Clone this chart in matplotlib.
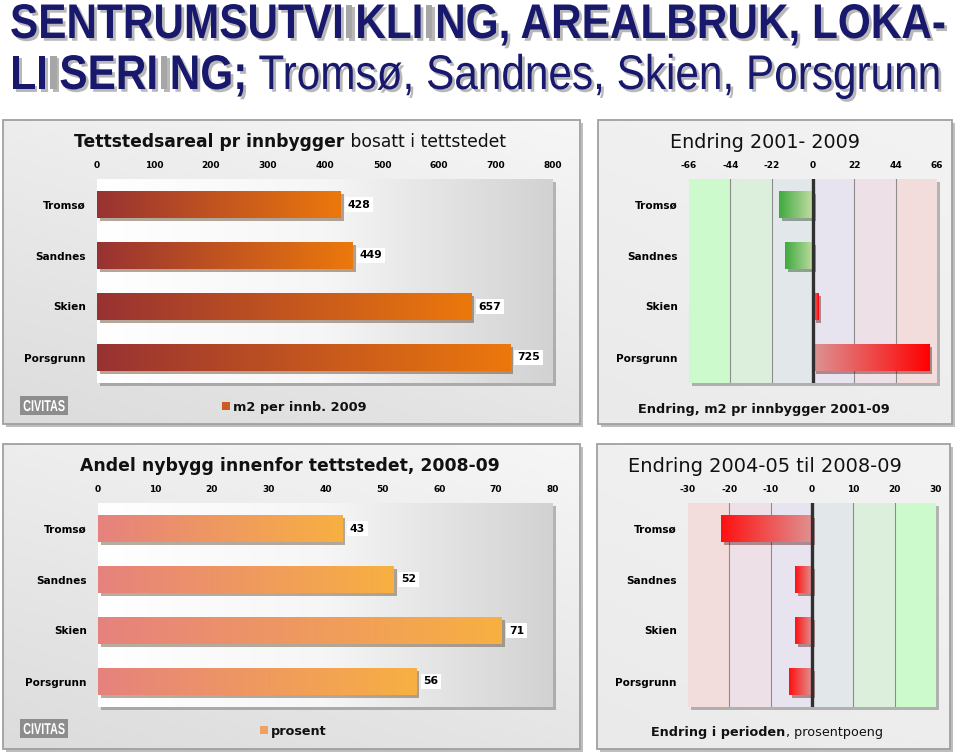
import numpy as np
import matplotlib
matplotlib.use('Agg')
import matplotlib.pyplot as plt
from matplotlib import patheffects as pe
from matplotlib import font_manager
from matplotlib.colors import LinearSegmentedColormap, to_rgb
from matplotlib.patches import Rectangle
from matplotlib.transforms import IdentityTransform, Affine2D
from matplotlib.font_manager import FontProperties

W, H = 960, 753

# data
byer = ['Tromsø', 'Sandnes', 'Skien', 'Porsgrunn']
areal_2009 = [428, 449, 657, 725]          # m2 per innbygger 2009
endring_areal = [-18, -15, 3, 62]          # endring 2001-2009
andel_nybygg = [43, 52, 71, 56]            # prosent 2008-09
endring_andel = [-22, -4, -4, -5.5]        # prosentpoeng

ticks_areal = [0, 100, 200, 300, 400, 500, 600, 700, 800]
ticks_endr_areal = [-66, -44, -22, 0, 22, 44, 66]
ticks_andel = [0, 10, 20, 30, 40, 50, 60, 70, 80]
ticks_endr_andel = [-30, -20, -10, 0, 10, 20, 30]

# band colours, from left to right
baand_gronn_rod = ['#cdfacd', '#dcefdc', '#e2e7e9', '#e8e4ef', '#eee0e7', '#f3dcdc']
baand_rod_gronn = baand_gronn_rod[::-1]

navy = '#18186c'
graa_i = '#a6a6a6'

names = {f.name for f in font_manager.fontManager.ttflist}
narrow = 'Liberation Sans Narrow' if 'Liberation Sans Narrow' in names else 'Liberation Sans'
stretch_y = 1.0 if narrow == 'Liberation Sans Narrow' else 1.15
sans = 'DejaVu Sans'

fig = plt.figure(figsize=(W / 100, H / 100), dpi=100)
fig.patch.set_facecolor('white')
renderer = fig.canvas.get_renderer()


class Stretch(pe.AbstractPathEffect):
    # makes glyphs taller around the baseline y0 (display px), stand-in for a narrow face
    def __init__(self, y0, sy, inner):
        super().__init__()
        self.y0, self.sy, self.inner = y0, sy, inner

    def draw_path(self, renderer, gc, tpath, affine, rgbFace=None):
        aff = affine + Affine2D().translate(0, -self.y0).scale(1, self.sy).translate(0, self.y0)
        self.inner.draw_path(renderer, gc, tpath, aff, rgbFace)


def rect(l, t, r, b):
    return [l / W, 1 - b / H, (r - l) / W, (b - t) / H]


def tw(s, size, weight, family):
    # width of a string in pixels, keeps leading / trailing spaces
    prop = FontProperties(family=family, size=size, weight=weight)
    w1 = renderer.get_text_width_height_descent('|' + s + '|', prop, ismath=False)[0]
    w0 = renderer.get_text_width_height_descent('||', prop, ismath=False)[0]
    return w1 - w0


def runs(x, y, parts, size, family, ha='left', width=None, shadow=False, sy=1.0):
    # parts: (text, colour, weight)
    if width is not None:
        tot = sum(tw(s, size, wt, family) for s, c, wt in parts)
        size = size * width / tot
    ws = [tw(s, size, wt, family) for s, c, wt in parts]
    x0 = x - sum(ws) / 2 if ha == 'center' else x
    for (s, c, wt), w in zip(parts, ws):
        eff = None
        if shadow or sy != 1.0:
            inner = [pe.Normal()]
            if shadow:
                inner = [pe.SimplePatchShadow(offset=(2, -2), shadow_rgbFace='#8a8a8a', alpha=0.6),
                         pe.Normal()]
            eff = [Stretch(H - y, sy, e) for e in inner]
        fig.text(x0, H - y, s, transform=IdentityTransform(), fontsize=size,
                 color=c, weight=wt, family=family, va='baseline', ha='left',
                 path_effects=eff)
        x0 += w
    return size


def panel(l, t, r, b, light='#f6f6f6', dark='#dcdcdc'):
    ax = fig.add_axes(rect(l, t, r, b))
    ax.set_xlim(0, 1)
    ax.set_ylim(0, 1)
    ax.axis('off')
    ax.add_patch(Rectangle((0, 0), 1, 1, fc='#e6e6e6', ec='none', clip_on=False, zorder=0,
                           path_effects=[pe.SimplePatchShadow(offset=(2, -2), alpha=0.35), pe.Normal()]))
    yy, xx = np.mgrid[0:1:100j, 0:1:100j]
    t_ = np.clip(0.65 * yy + 0.35 * (1 - xx), 0, 1)[..., None]
    img = np.array(to_rgb(light)) * (1 - t_) + np.array(to_rgb(dark)) * t_
    ax.imshow(img, extent=[0, 1, 0, 1], aspect='auto', zorder=1, origin='upper')
    ax.add_patch(Rectangle((0, 0), 1, 1, fill=False, ec='#a0a0a0', lw=1.3, clip_on=False, zorder=2))
    return ax


def plot_axes(l, t, r, b, ticks, plain_bg=True):
    ax = fig.add_axes(rect(l, t, r, b))
    ax.set_xlim(ticks[0], ticks[-1])
    ax.set_ylim(len(byer) - 0.5, -0.5)
    ax.patch.set_visible(False)
    for s in ax.spines.values():
        s.set_visible(False)
    ax.xaxis.tick_top()
    ax.set_xticks(ticks)
    ax.set_xticklabels([str(v) for v in ticks], fontsize=6.5, weight='bold', family=sans)
    ax.set_yticks(range(len(byer)))
    ax.set_yticklabels(byer, fontsize=7.6, weight='bold', family=sans)
    ax.tick_params(length=0, axis='x', pad=6.5)
    ax.tick_params(length=0, axis='y', pad=8)
    ax.add_patch(Rectangle((0, 0), 1, 1, transform=ax.transAxes, fc='#d8d8d8', ec='none',
                           clip_on=False, zorder=0,
                           path_effects=[pe.SimplePatchShadow(offset=(2, -2), alpha=0.35), pe.Normal()]))
    if plain_bg:
        cm = LinearSegmentedColormap.from_list('bg', ['#ffffff', '#f6f6f6', '#d2d2d2'])
        ax.imshow(np.linspace(0, 1, 256).reshape(1, -1), cmap=cm, extent=[0, 1, 0, 1],
                  transform=ax.transAxes, aspect='auto', zorder=0.5)
    return ax


def grad_bars(ax, vals, c_base, c_tip, height=0.54):
    cm = LinearSegmentedColormap.from_list('g', [c_base, c_tip])
    bars = ax.barh(range(len(vals)), vals, height=height, color=c_tip, zorder=3,
                   path_effects=[pe.SimplePatchShadow(offset=(2, -2), alpha=0.4), pe.Normal()])
    for bar in bars:
        x0, w = bar.get_x(), bar.get_width()
        y0, h = bar.get_y(), bar.get_height()
        im = ax.imshow(np.linspace(0, 1, 256).reshape(1, -1), cmap=cm,
                       extent=[x0, x0 + w, y0 + h, y0], aspect='auto', zorder=4)
        im.set_clip_path(bar)
    return bars


def value_labels(ax, vals):
    for i, v in enumerate(vals):
        ax.annotate(str(v), (v, i), xytext=(5, 0), textcoords='offset points',
                    va='center', ha='left', fontsize=7.8, weight='bold', family=sans,
                    bbox=dict(fc='white', ec='none', pad=2), zorder=6)


def bands(ax, ticks, colours):
    for a, b, c in zip(ticks[:-1], ticks[1:], colours):
        ax.axvspan(a, b, color=c, zorder=1, lw=0)
    for v in ticks[1:-1]:
        if v != 0:
            ax.axvline(v, color='#8c8c8c', lw=0.8, zorder=2)
    ax.axvline(0, color='#303030', lw=2.4, zorder=7)


def civitas(l, t, r, b):
    fig.add_artist(Rectangle((l / W, 1 - b / H), (r - l) / W, (b - t) / H,
                             transform=fig.transFigure, fc='#8d8d8d', ec='none'))
    runs((l + r) / 2, b - 4, [('CIVITAS', 'white', 'bold')], 9, narrow, ha='center',
         width=(r - l) - 6, sy=1.45)


# ---- main title ----
line1 = [('SENTRUMSUTVI', navy, 'bold'), ('I', graa_i, 'bold'), ('KLI', navy, 'bold'),
         ('I', graa_i, 'bold'), ('NG, AREALBRUK, LOKA-', navy, 'bold')]
size1 = runs(10, 38, line1, 27, narrow, width=935, shadow=True, sy=stretch_y)
line2 = [('LI', navy, 'bold'), ('I', graa_i, 'bold'), ('SERI', navy, 'bold'), ('I', graa_i, 'bold'),
         ('NG;', navy, 'bold'), (' Tromsø, Sandnes, Skien, Porsgrunn', navy, 'normal')]
runs(10, 89, line2, size1, narrow, shadow=True, sy=stretch_y)

# ---- panel 1: tettstedsareal ----
p1 = panel(3, 120, 580, 424)
ax1 = plot_axes(97, 179, 553, 383, ticks_areal)
grad_bars(ax1, areal_2009, '#983232', '#ec780c')
value_labels(ax1, areal_2009)
ax1.set_xlim(ticks_areal[0], ticks_areal[-1])
ax1.set_ylim(len(byer) - 0.5, -0.5)
runs(290, 147, [('Tettstedsareal pr innbygger', '#111111', 'bold'),
                (' bosatt i tettstedet', '#111111', 'normal')], 11, sans, ha='center', width=430)
civitas(20, 396, 68, 415)
fig.add_artist(Rectangle((222 / W, 1 - 410 / H), 8 / W, 8 / H, transform=fig.transFigure,
                         fc='#cc5a24', ec='none'))
runs(233, 411, [('m2 per innb. 2009', '#111111', 'bold')], 9.5, sans, width=133)

# ---- panel 2: endring areal ----
p2 = panel(598, 120, 952, 424, light='#f3f3f3', dark='#eaeaea')
ax2 = plot_axes(689, 179, 937, 383, ticks_endr_areal, plain_bg=False)
bands(ax2, ticks_endr_areal, baand_gronn_rod)
neg = [v if v < 0 else 0 for v in endring_areal]
pos = [v if v > 0 else 0 for v in endring_areal]
grad_bars(ax2, neg, '#c4dca4', '#3eaa3e')
grad_bars(ax2, pos, '#dc9494', '#ff0000')
ax2.set_xlim(ticks_endr_areal[0], ticks_endr_areal[-1])
ax2.set_ylim(len(byer) - 0.5, -0.5)
runs(765, 148, [('Endring 2001- 2009', '#111111', 'normal')], 14, sans, ha='center', width=190)
runs(764, 413, [('Endring, m2 pr innbygger 2001-09', '#111111', 'bold')], 8.5, sans,
     ha='center', width=248)

# ---- panel 3: andel nybygg ----
p3 = panel(3, 444, 580, 749)
ax3 = plot_axes(98, 503, 553, 707, ticks_andel)
grad_bars(ax3, andel_nybygg, '#e6827e', '#f8b042')
value_labels(ax3, andel_nybygg)
ax3.set_xlim(ticks_andel[0], ticks_andel[-1])
ax3.set_ylim(len(byer) - 0.5, -0.5)
runs(290, 471, [('Andel nybygg innenfor tettstedet, 2008-09', '#111111', 'bold')], 11, sans,
     ha='center', width=416)
civitas(20, 719, 68, 738)
fig.add_artist(Rectangle((260 / W, 1 - 734 / H), 8 / W, 8 / H, transform=fig.transFigure,
                         fc='#f0a060', ec='none'))
runs(271, 735, [('prosent', '#111111', 'bold')], 9.5, sans, width=56)

# ---- panel 4: endring andel ----
p4 = panel(597, 444, 950, 749, light='#f3f3f3', dark='#eaeaea')
ax4 = plot_axes(688, 503, 936, 707, ticks_endr_andel, plain_bg=False)
bands(ax4, ticks_endr_andel, baand_rod_gronn)
grad_bars(ax4, endring_andel, '#e09090', '#ff1010')
ax4.set_xlim(ticks_endr_andel[0], ticks_endr_andel[-1])
ax4.set_ylim(len(byer) - 0.5, -0.5)
runs(765, 472, [('Endring 2004-05 til 2008-09', '#111111', 'normal')], 14, sans,
     ha='center', width=274)
runs(767, 736, [('Endring i perioden', '#111111', 'bold'), (', prosentpoeng', '#111111', 'normal')],
     8.5, sans, ha='center', width=230)

fig.savefig('out.png', dpi=100)
